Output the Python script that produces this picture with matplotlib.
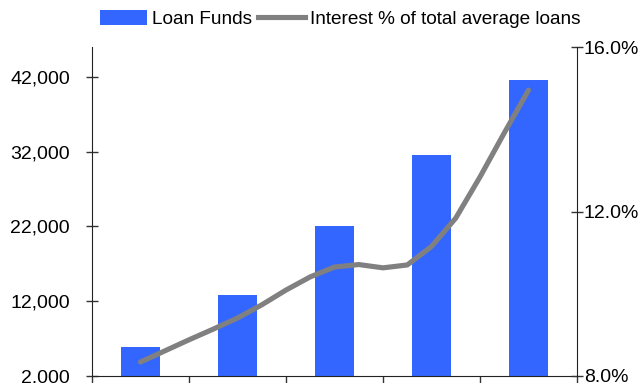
import matplotlib.pyplot as plt
from matplotlib.patches import Patch
from matplotlib.lines import Line2D
from matplotlib.ticker import FuncFormatter

plt.rcParams['font.family'] = ['Liberation Sans', 'DejaVu Sans']

# Loan funds per period (bars, left axis)
periods = [0, 1, 2, 3, 4]
loan_funds = [5900, 12850, 22000, 31500, 41600]

# Interest as % of total average loans (line, right axis), quarter-period steps
rate_x = [0, 0.25, 0.5, 0.75, 1, 1.25, 1.5, 1.75, 2, 2.25, 2.5, 2.75, 3,
          3.25, 3.5, 3.75, 4]
rate_pct = [8.34, 8.61, 8.88, 9.14, 9.41, 9.73, 10.09, 10.41, 10.65, 10.71,
            10.63, 10.70, 11.15, 11.84, 12.84, 13.91, 14.95]

left_ticks = [2000, 12000, 22000, 32000, 42000]
right_ticks = [8, 12, 16]

bar_color = '#3366FF'
line_color = '#808080'

fig = plt.figure(figsize=(6.44, 3.83), dpi=100)
ax = fig.add_axes([92 / 644, 7 / 383, 485 / 644, 329 / 383])

ax.bar(periods, loan_funds, width=0.41, color=bar_color, zorder=2)
ax.set_xlim(-0.5, 4.5)
ax.set_ylim(2000, 46000)
ax.set_yticks(left_ticks)
ax.yaxis.set_major_formatter(FuncFormatter(lambda v, _: f"{v:,.0f}"))
ax.set_xticks([p - 0.5 for p in periods] + [4.5])
ax.set_xticklabels([])
ax.tick_params(axis='x', direction='out', length=5, width=1, color='#333333')
ax.tick_params(axis='y', direction='inout', length=8, width=1, pad=12,
               labelsize=14, color='#333333')
ax.spines['top'].set_visible(False)
ax.spines['right'].set_visible(False)
for side in ('left', 'bottom'):
    ax.spines[side].set_color('#222222')

ax2 = ax.twinx()
ax2.plot(rate_x, rate_pct, color=line_color, lw=3.7,
         solid_capstyle='round', solid_joinstyle='round', zorder=3)
ax2.set_ylim(8, 16)
ax2.set_yticks(right_ticks)
ax2.yaxis.set_major_formatter(FuncFormatter(lambda v, _: f"{v:.1f}%"))
ax2.tick_params(axis='y', direction='inout', length=8, width=1, pad=1,
                labelsize=14, color='#333333')
ax2.spines['top'].set_visible(False)
ax2.spines['left'].set_visible(False)
ax2.spines['bottom'].set_visible(False)
ax2.spines['right'].set_color('#222222')

handles = [Patch(facecolor=bar_color, edgecolor='none', label='Loan Funds'),
           Line2D([], [], color=line_color, lw=3.7,
                  label='Interest % of total average loans')]
fig.legend(handles=handles, loc='center', bbox_to_anchor=(0.528, 0.95),
           ncol=2, frameon=False, fontsize=13.7, handlelength=2.5,
           handleheight=0.8, handletextpad=0.25, columnspacing=0.3,
           borderpad=0, borderaxespad=0)

fig.savefig('out.png', dpi=100)
